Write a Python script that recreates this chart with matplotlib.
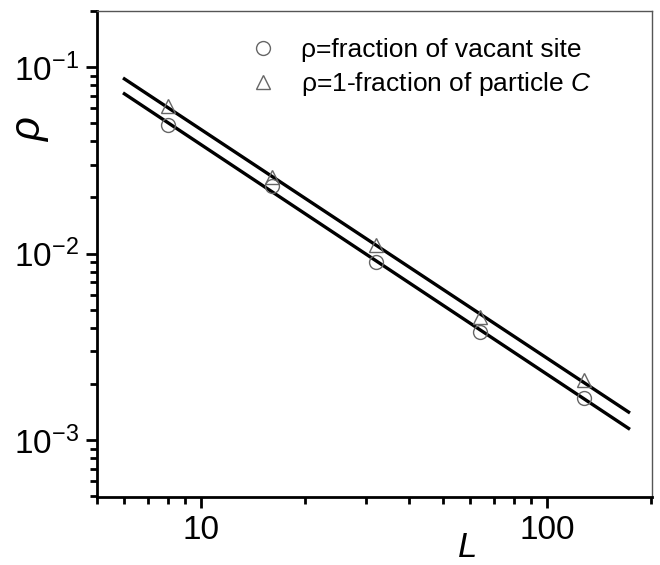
import numpy as np
import matplotlib
matplotlib.use("Agg")
import matplotlib.pyplot as plt
from matplotlib.ticker import FixedLocator, LogLocator, NullFormatter

plt.rcParams['font.family'] = ['Liberation Sans', 'DejaVu Sans']
plt.rcParams['mathtext.fontset'] = 'custom'
plt.rcParams['mathtext.rm'] = 'Liberation Sans'
plt.rcParams['mathtext.it'] = 'Liberation Sans:italic'
plt.rcParams['mathtext.bf'] = 'Liberation Sans:bold'

# data
L_vals = [8, 16, 32, 64, 128]
rho_vacant = [0.0488, 0.0230, 0.00897, 0.00381, 0.00168]
rho_particleC = [0.0618, 0.0258, 0.0111, 0.00455, 0.00210]
fit_range = [6.0, 172.0]
labels = ['ρ=fraction of vacant site', r'ρ=1-fraction of particle $\it{C}$']
y_ticks = [1e-3, 1e-2, 1e-1]
y_ticklabels = [r'$\mathregular{10^{-3}}$', r'$\mathregular{10^{-2}}$', r'$\mathregular{10^{-1}}$']
x_ticks = [10, 100]
x_ticklabels = ['10', '100']

fig = plt.figure(figsize=(6.6, 5.65), dpi=100)
ax = fig.add_axes([97/660, 1-497/565, (652-97)/660, (497-11)/565])

xf = np.array(fit_range)
for ys in (rho_vacant, rho_particleC):
    p = np.polyfit(np.log10(L_vals), np.log10(ys), 1)
    ax.plot(xf, 10**np.polyval(p, np.log10(xf)), color='black', lw=2.4, zorder=2)

h1, = ax.plot(L_vals, rho_vacant, linestyle='none', marker='o', ms=10, mfc='none',
              mec='#666666', mew=1.0, zorder=3)
h2, = ax.plot(L_vals, rho_particleC, linestyle='none', marker='^', ms=10, mfc='none',
              mec='#666666', mew=1.0, zorder=3)

ax.set_xscale('log')
ax.set_yscale('log')
ax.set_xlim(5, 201)
ax.set_ylim(4.95e-4, 0.2)

ax.xaxis.set_major_locator(FixedLocator(x_ticks))
ax.set_xticklabels(x_ticklabels)
ax.xaxis.set_minor_locator(LogLocator(base=10, subs=np.arange(2, 10)))
ax.xaxis.set_minor_formatter(NullFormatter())
ax.yaxis.set_major_locator(FixedLocator(y_ticks))
ax.set_yticklabels(y_ticklabels)
ax.yaxis.set_minor_locator(LogLocator(base=10, subs=np.arange(2, 10)))
ax.yaxis.set_minor_formatter(NullFormatter())

ax.tick_params(which='major', direction='out', length=8, width=2, labelsize=24, pad=5,
               top=False, right=False)
ax.tick_params(which='minor', direction='out', length=5, width=2, top=False, right=False)

for s in ('left', 'bottom'):
    ax.spines[s].set_linewidth(2)
    ax.spines[s].set_color('black')
for s in ('top', 'right'):
    ax.spines[s].set_linewidth(1)
    ax.spines[s].set_color('#555555')

fig.text(30/660, 1-130/565, 'ρ', rotation=90, fontsize=30, style='italic',
         ha='center', va='center')
fig.text(468/660, 1-564/565, 'L', fontsize=25, style='italic', ha='center', va='bottom')

leg = ax.legend([h1, h2], labels, loc='upper left',
                bbox_to_anchor=(248/660, 1-38/565), bbox_transform=fig.transFigure,
                frameon=False, fontsize=19, handlelength=1.1, handletextpad=0.9,
                labelspacing=0.3, borderaxespad=0, borderpad=0)

fig.savefig('out.png', dpi=100)
